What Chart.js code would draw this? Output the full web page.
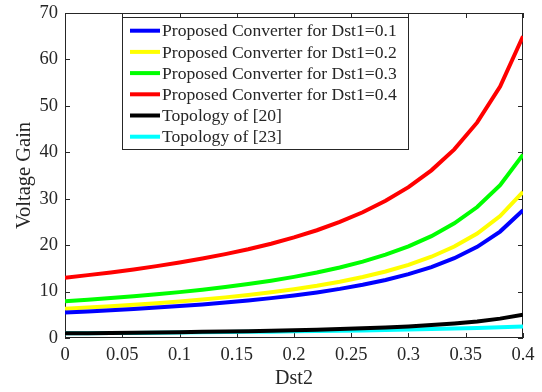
<!DOCTYPE html>
<html lang="en">
<head>
    <meta charset="UTF-8">
    <script src="https://cdn.jsdelivr.net/npm/chart.js@4.4.1/dist/chart.umd.min.js"></script>
    <title>Voltage Gain vs Dst2</title>
    <style>
        html, body { margin: 0; padding: 0; background: #fff; }
        #wrap { width: 542px; height: 392px; }
    </style>
</head>
<body>
<div id="wrap"><canvas id="myChart"></canvas></div>
<script>
    // Dst2 sample points
    const dst2 = [0, 0.02, 0.04, 0.06, 0.08, 0.1, 0.12, 0.14, 0.16, 0.18, 0.2,
                  0.22, 0.24, 0.26, 0.28, 0.3, 0.32, 0.34, 0.36, 0.38, 0.4];

    const gainDst1_01 = [5.5, 5.73, 5.98, 6.25, 6.55, 6.88, 7.24, 7.64, 8.09, 8.59, 9.17,
                         9.82, 10.58, 11.46, 12.5, 13.75, 15.28, 17.19, 19.64, 22.92, 27.5];
    const gainDst1_02 = [6.3, 6.56, 6.85, 7.16, 7.5, 7.88, 8.29, 8.75, 9.26, 9.84, 10.5,
                         11.25, 12.12, 13.13, 14.32, 15.75, 17.5, 19.69, 22.5, 26.25, 31.5];
    const gainDst1_03 = [7.9, 8.23, 8.59, 8.98, 9.4, 9.88, 10.39, 10.97, 11.62, 12.34, 13.17,
                         14.11, 15.19, 16.46, 17.95, 19.75, 21.94, 24.69, 28.21, 32.92, 39.5];
    const gainDst1_04 = [13.0, 13.54, 14.13, 14.77, 15.48, 16.25, 17.11, 18.06, 19.12, 20.31, 21.67,
                         23.21, 25.0, 27.08, 29.55, 32.5, 36.11, 40.63, 46.43, 54.17, 65.0];
    const gainRef20 = [1.0, 1.04, 1.09, 1.14, 1.19, 1.25, 1.32, 1.39, 1.47, 1.56, 1.67,
                       1.79, 1.92, 2.08, 2.27, 2.5, 2.78, 3.13, 3.57, 4.17, 5.0];
    const gainRef23 = [1.0, 1.03, 1.06, 1.1, 1.14, 1.18, 1.22, 1.27, 1.32, 1.37, 1.43,
                       1.49, 1.56, 1.64, 1.72, 1.82, 1.92, 2.04, 2.17, 2.33, 2.5];

    const xTicks = [0, 0.05, 0.1, 0.15, 0.2, 0.25, 0.3, 0.35, 0.4];
    const yTicks = [0, 10, 20, 30, 40, 50, 60, 70];

    const axisColor = '#262626';
    const serif = '"Liberation Serif", "Times New Roman", serif';

    function pts(ys) {
        return ys.map((y, i) => ({ x: dst2[i], y: y }));
    }

    function series(label, ys, color) {
        return {
            label: label,
            data: pts(ys),
            borderColor: color,
            backgroundColor: color,
            borderWidth: 4,
            pointRadius: 0,
            tension: 0,
            fill: false
        };
    }

    // box around the plot with inward tick marks (matlab style)
    const boxPlugin = {
        id: 'boxPlugin',
        beforeDatasetsDraw(chart) {
            const { ctx, chartArea: a, scales } = chart;
            ctx.save();
            ctx.strokeStyle = axisColor;
            ctx.lineWidth = 1;
            ctx.strokeRect(a.left + 0.5, a.top + 0.5, a.right - a.left - 1, a.bottom - a.top - 1);
            ctx.beginPath();
            xTicks.forEach(v => {
                const px = Math.round(scales.x.getPixelForValue(v)) + 0.5;
                ctx.moveTo(px, a.bottom); ctx.lineTo(px, a.bottom - 5);
                ctx.moveTo(px, a.top); ctx.lineTo(px, a.top + 5);
            });
            yTicks.forEach(v => {
                const py = Math.round(scales.y.getPixelForValue(v)) + 0.5;
                ctx.moveTo(a.left, py); ctx.lineTo(a.left + 5, py);
                ctx.moveTo(a.right, py); ctx.lineTo(a.right - 5, py);
            });
            ctx.stroke();
            ctx.restore();
        },
        afterDatasetsDraw(chart) {
            // legend box in the upper left of the plot
            const { ctx } = chart;
            const x0 = 122, y0 = 17, w = 286, h = 132;
            ctx.save();
            ctx.fillStyle = '#fff';
            ctx.fillRect(x0, y0, w, h);
            ctx.strokeStyle = axisColor;
            ctx.lineWidth = 1;
            ctx.strokeRect(x0 + 0.5, y0 + 0.5, w, h);
            ctx.font = '17.6px ' + serif;
            ctx.textBaseline = 'middle';
            ctx.textAlign = 'left';
            chart.data.datasets.forEach((ds, i) => {
                const y = 30.7 + i * 21.2;
                ctx.strokeStyle = ds.borderColor;
                ctx.lineWidth = 4;
                ctx.beginPath();
                ctx.moveTo(130, y);
                ctx.lineTo(160, y);
                ctx.stroke();
                ctx.fillStyle = axisColor;
                ctx.fillText(ds.label, 162, y + 1);
            });
            ctx.restore();
        }
    };

    const ctx = document.getElementById('myChart').getContext('2d');

    new Chart(ctx, {
        type: 'line',
        data: {
            datasets: [
                series('Proposed Converter for Dst1=0.1', gainDst1_01, '#0000ff'),
                series('Proposed Converter for Dst1=0.2', gainDst1_02, '#ffff00'),
                series('Proposed Converter for Dst1=0.3', gainDst1_03, '#00ff00'),
                series('Proposed Converter for Dst1=0.4', gainDst1_04, '#ff0000'),
                series('Topology of [20]', gainRef20, '#000000'),
                series('Topology of [23]', gainRef23, '#00ffff')
            ]
        },
        options: {
            responsive: true,
            maintainAspectRatio: false,
            animation: false,
            layout: { padding: { top: 13, right: 19, left: 0, bottom: 0 } },
            plugins: {
                legend: { display: false },
                tooltip: { enabled: false }
            },
            scales: {
                x: {
                    type: 'linear',
                    min: 0,
                    max: 0.4,
                    afterFit: s => { s.height = 54; },
                    afterBuildTicks: s => { s.ticks = xTicks.map(v => ({ value: v })); },
                    grid: { display: false, drawTicks: false },
                    border: { display: false },
                    ticks: {
                        color: axisColor,
                        font: { family: serif, size: 18.5 },
                        padding: 6,
                        maxRotation: 0,
                        autoSkip: false,
                        callback: v => String(v)
                    },
                    title: {
                        display: true,
                        text: 'Dst2',
                        color: axisColor,
                        font: { family: serif, size: 20 },
                        padding: { top: 0, bottom: 1 }
                    }
                },
                y: {
                    min: 0,
                    max: 70,
                    afterFit: s => { s.width = 65; s.paddingTop = 0; s.paddingBottom = 0; },
                    afterBuildTicks: s => { s.ticks = yTicks.map(v => ({ value: v })); },
                    grid: { display: false, drawTicks: false },
                    border: { display: false },
                    ticks: {
                        color: axisColor,
                        font: { family: serif, size: 18.5, lineHeight: 0.5 },
                        padding: 7,
                        autoSkip: false
                    },
                    title: {
                        display: true,
                        text: 'Voltage Gain',
                        color: axisColor,
                        font: { family: serif, size: 20.5 },
                        padding: { top: 12, bottom: 0 }
                    }
                }
            }
        },
        plugins: [boxPlugin]
    });
</script>
</body>
</html>
